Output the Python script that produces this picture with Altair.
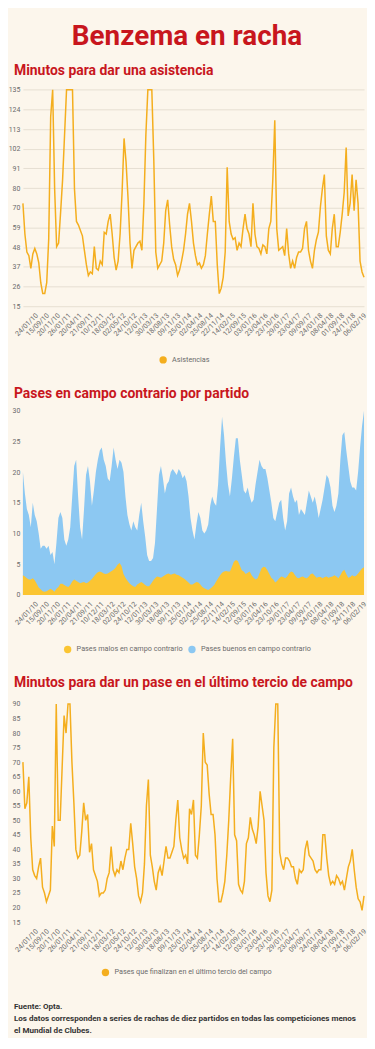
import altair as alt
import pandas as pd

# ---------------- data ----------------
fechas = ["24/01/10", "15/09/10", "20/11/10", "26/01/11", "20/04/11", "21/09/11", "10/12/11",
          "18/03/12", "02/05/12", "24/10/12", "12/01/13", "30/03/13", "18/08/13", "09/11/13",
          "25/01/14", "02/04/14", "25/08/14", "22/11/14", "14/02/15", "12/09/15", "03/01/16",
          "23/04/16", "23/10/16", "29/01/17", "23/04/17", "09/09/17", "24/01/18", "08/04/18",
          "01/09/18", "24/11/18", "06/02/19"]

# Minutos para dar una asistencia
asistencias = [72, 55, 45, 43, 36, 44, 47, 44, 39, 28, 22, 22, 28, 52, 120, 140, 80, 48, 50, 67,
               85, 110, 140, 140, 140, 140, 80, 62, 60, 57, 54, 46, 38, 32, 34, 33, 48, 36, 35, 40,
               38, 56, 55, 62, 66, 55, 42, 35, 40, 55, 78, 108, 95, 75, 50, 36, 46, 48, 50, 51,
               46, 72, 110, 140, 140, 140, 96, 45, 36, 38, 40, 50, 68, 74, 60, 48, 41, 38, 32, 35,
               40, 46, 55, 66, 72, 62, 50, 43, 38, 39, 36, 38, 43, 55, 66, 76, 62, 62, 38, 22,
               25, 31, 45, 92, 62, 55, 52, 53, 46, 50, 48, 58, 66, 58, 55, 48, 72, 55, 48, 47,
               44, 49, 48, 44, 58, 62, 85, 118, 58, 46, 47, 48, 43, 58, 44, 36, 40, 36, 42, 45,
               45, 47, 58, 62, 46, 40, 36, 46, 52, 56, 70, 80, 88, 54, 46, 44, 58, 66, 48, 48,
               56, 66, 78, 103, 65, 72, 88, 68, 85, 72, 40, 34, 31]

# Pases en campo contrario por partido (borde superior del área azul y área amarilla)
pases_total = [20, 16.5, 14, 13, 11, 15, 13, 12, 10, 7.5, 8, 8, 7.5, 8, 6.5, 7, 5, 8.5, 12.5, 13.5,
               12.5, 9, 8, 9, 11, 16, 21, 22, 16, 11, 9, 14, 19.5, 21, 18.5, 14.5, 17, 20, 22, 23.5,
               24, 22, 21, 19, 18.5, 21, 24, 22, 20.5, 22, 21.5, 20, 16, 13, 11.5, 10.5, 12, 11, 10.5, 13,
               15, 12, 9.5, 6.5, 5.5, 5.5, 6, 8.5, 14, 19.5, 21, 19, 16.5, 18, 18.5, 20, 20.5, 20, 19.5, 20.5,
               20, 19, 19.5, 18.5, 16, 12.5, 10.5,
               9, 11.5, 13.5, 12.5, 10.5, 10, 10.5, 11.5, 14.5, 16, 15, 14.5, 18, 24, 29, 26, 21.5, 18, 16, 19,
               22.5, 25.5, 25.5, 22, 19.5, 17, 16.5, 17.5, 16, 15, 15.5, 18, 20, 22, 21, 20.5, 20.5, 19, 17, 15,
               12.5, 12, 13.5, 15, 15.5, 12.5, 10.5, 12, 16.5, 17.5, 16, 15, 15.5, 13, 14, 13.5, 13, 15, 17, 16,
               15, 16, 14.5, 12.5, 14, 15.5, 17.5, 19.5, 19, 17.5, 14.5, 13.5, 14.5, 16.5, 22, 26, 26.5, 23.5, 21, 18.5,
               17.5, 17.5, 17, 20, 24, 27.5, 30]
pases_malos = [3.2, 3.0, 2.7, 2.5, 2.5, 2.7, 2.4, 1.8, 1.2, 0.9, 0.6, 0.5, 0.6, 0.8, 1.0, 0.8, 0.5, 1.0, 1.3, 1.8,
               1.8, 1.6, 1.4, 1.3, 1.6, 2.2, 2.5, 2.3, 2.1, 1.9, 2.0, 2.1, 1.9, 2.0, 2.3, 2.6, 3.0, 3.4, 3.7, 3.8,
               3.7, 3.5, 3.4, 3.5, 3.7, 3.9, 4.1, 4.4, 4.9, 5.2, 4.7, 3.4, 2.8, 2.3, 1.9, 1.6, 1.4, 1.3, 1.7, 1.9,
               2.1, 1.9, 1.6, 1.4, 1.4, 1.8, 2.3, 2.7, 3.0, 2.9, 2.8, 3.0, 3.2, 3.4, 3.5, 3.3, 3.4, 3.5, 3.3, 3.2,
               3.0, 2.8, 2.6, 2.3, 2.0, 1.7, 1.7, 1.9, 2.1, 2.0, 1.7, 1.3, 1.1, 0.9, 0.8, 1.0, 1.3, 1.6, 2.2, 2.7,
               3.2, 3.6, 3.8, 3.9, 3.8, 3.8, 4.6, 5.4, 5.7, 5.5, 4.8, 4.0, 3.8, 3.4, 3.6, 3.8, 3.2, 2.8, 2.5, 2.7,
               3.5, 4.3, 4.6, 4.5, 4.0, 3.4, 2.8, 2.5, 2.0, 2.3, 2.7, 3.0, 2.9, 2.7, 3.0, 3.5, 3.8, 3.7, 3.2, 2.8,
               2.7, 2.9, 3.0, 2.8, 2.7, 3.0, 3.4, 3.5, 3.1, 2.8, 2.9, 2.9, 2.7, 2.9, 3.0, 2.8, 2.9, 3.0, 3.2, 3.0,
               2.7, 3.2, 3.8, 4.1, 3.4, 2.8, 2.9, 3.2, 3.0, 3.1, 3.5, 3.9, 4.3, 4.5]

# Minutos para dar un pase en el último tercio de campo
ultimo_tercio = [70, 54, 56, 65, 44, 33, 31, 30, 34, 37, 27, 25, 22, 24, 26, 48, 41, 91, 50, 50,
                 68, 86, 80, 90, 91, 70, 56, 40, 37, 38, 46, 56, 50, 52, 39, 42, 33, 31, 29, 24,
                 25, 25, 26, 30, 32, 41, 33, 31, 33, 32, 36, 33, 37, 40, 40, 49, 42, 34, 30, 24,
                 22, 25, 35, 55, 64, 38, 34, 29, 26, 32, 34, 31, 36, 41, 37, 37, 39, 41, 50, 57,
                 44, 40, 37, 38, 35, 54, 52, 57, 38, 37, 45, 55, 80, 70, 69, 59, 52, 52, 45, 30,
                 22, 22, 25, 29, 38, 50, 65, 78, 45, 43, 28, 26, 25, 29, 42, 44, 51, 47, 45, 42,
                 48, 60, 55, 50, 32, 24, 22, 26, 75, 92, 90, 39, 35, 33, 37, 37, 36, 34, 34, 30,
                 28, 33, 32, 33, 40, 43, 38, 37, 36, 33, 32, 33, 33, 45, 45, 37, 31, 28, 29, 28,
                 31, 30, 28, 29, 26, 30, 34, 36, 40, 33, 27, 23, 22, 19, 24]

TITULO = "Benzema en racha"
SUB1 = "Minutos para dar una asistencia"
SUB2 = "Pases en campo contrario por partido"
SUB3 = "Minutos para dar un pase en el último tercio de campo"
S1 = "Asistencias"
S_M = "Pases malos en campo contrario"
S_B = "Pases buenos en campo contrario"
S3 = "Pases que finalizan en el último tercio del campo"
FUENTE = "Fuente: Opta."
NOTA = ["Los datos corresponden a series de rachas de diez partidos en todas las competiciones menos",
        "el Mundial de Clubes."]

# ---------------- style / layout ----------------
BG = "#fcf6ec"
RED = "#c8161d"
LINE = "#f4ae1e"
BLUE = "#8cc8f2"
YELLOW = "#fbc532"
GRID = "#e6dfd2"
LABEL = "#6b6b6b"
FONT = "Roboto"
W = 343      # plot width (page x 22 .. 365)
H = 1030     # whole drawing area (page y 8 .. 1038)

# vertical pixel bands of each panel (inside the drawing area)
P1 = (297.0, 79.3)
P2 = (587.3, 402.0)
P3 = (916.3, 697.0)


def x_axis(n, bottom):
    d0 = 11 / W * (n - 1)
    d1 = (n - 1) - 2 / W * (n - 1)
    vals = [d0 + k * (d1 - d0) / 30 for k in range(31)]
    arr = "[" + ",".join("'%s'" % f for f in fechas) + "]"
    expr = arr + "[round((datum.value-%f)*30/%f)]" % (d0, d1 - d0)
    return alt.Axis(orient="bottom", offset=bottom - H, values=vals, labelExpr=expr,
                    labelOverlap=False, labelFlush=False, labelAngle=315, labelFontSize=7,
                    labelColor=LABEL, labelFont=FONT, ticks=False, domain=False, grid=False,
                    title=None, labelPadding=5)


def x_enc(n, bottom):
    return alt.X("i:Q", scale=alt.Scale(domain=[0, n - 1], nice=False, zero=False),
                 axis=x_axis(n, bottom))


def y_axis(vals, expr=None):
    kw = dict(orient="left", values=vals, title=None, ticks=False, domain=False, labelFontSize=7,
              labelColor=LABEL, labelFont=FONT, gridColor=GRID, gridWidth=1, labelPadding=3)
    if expr:
        kw["labelExpr"] = expr
    return alt.Axis(**kw)


def legend(lx, ly, fill=None):
    kw = dict(orient="none", legendX=lx, legendY=ly, direction="horizontal", title=None, padding=0,
              symbolType="circle", symbolSize=55, symbolStrokeWidth=0, labelFontSize=7.3,
              labelColor=LABEL, labelFont=FONT, columnPadding=5, labelOffset=5, labelLimit=400)
    if fill:
        kw["symbolFillColor"] = fill
        kw["symbolOpacity"] = 1
    return alt.Legend(**kw)


def texto(txt, x, y, size, color, weight="bold", align="left", line_height=None):
    kw = dict(text=txt, fontSize=size, font=FONT, fontWeight=weight, color=color, align=align,
              baseline="alphabetic")
    if line_height:
        kw["lineHeight"] = line_height
    return alt.Chart(alt.Data(values=[{}])).mark_text(**kw).encode(x=alt.value(x), y=alt.value(y))


# panel 1
n1 = len(asistencias)
df1 = pd.DataFrame({"i": range(n1), "v": asistencias, "s": S1})
p1 = alt.Chart(df1).mark_line(strokeWidth=1.5).encode(
    x=x_enc(n1, P1[0]),
    y=alt.Y("v:Q", scale=alt.Scale(domain=[15, 135], range=list(P1), nice=False, zero=False, clamp=True),
            axis=y_axis([15 + k * 120 / 11 for k in range(12)], "round(datum.value)")),
    color=alt.Color("s:N", scale=alt.Scale(domain=[S1], range=[LINE]), legend=legend(137, 347, LINE)),
)

# panel 2
n2 = len(pases_total)
df2 = pd.DataFrame({"i": list(range(n2)) * 2, "v": pases_total + pases_malos,
                    "s": [S_B] * n2 + [S_M] * n2})
col2 = alt.Color("s:N", scale=alt.Scale(domain=[S_M, S_B], range=[YELLOW, BLUE]), legend=legend(41, 638))
y2 = alt.Y("v:Q", scale=alt.Scale(domain=[0, 30], range=list(P2), nice=False), axis=y_axis(list(range(0, 31, 5))))
x2 = x_enc(n2, P2[0])
base2 = alt.Chart(df2)
a_b = base2.transform_filter(alt.datum.s == S_B).mark_area(opacity=1).encode(x=x2, y=y2, color=col2)
a_m = base2.transform_filter(alt.datum.s == S_M).mark_area(opacity=1).encode(x=x2, y=y2, color=col2)
p2 = alt.layer(a_b, a_m)

# panel 3
n3 = len(ultimo_tercio)
df3 = pd.DataFrame({"i": range(n3), "v": ultimo_tercio, "s": S3})
p3 = alt.Chart(df3).mark_line(strokeWidth=1.5).encode(
    x=x_enc(n3, P3[0]),
    y=alt.Y("v:Q", scale=alt.Scale(domain=[15, 90], range=list(P3), nice=False, zero=False, clamp=True),
            axis=y_axis(list(range(15, 91, 5)))),
    color=alt.Color("s:N", scale=alt.Scale(domain=[S3], range=[LINE]), legend=legend(79, 963, LINE)),
)

# texts
t0 = texto(TITULO, 165, 34.3, 28, RED, align="center")
t1 = texto(SUB1, -9, 65, 14, RED)
t2 = texto(SUB2, -9, 389, 14, RED)
t3 = texto(SUB3, -9, 680, 14, RED)
t4 = texto(FUENTE, -9, 1004, 8.1, "#333333")
t5 = texto(NOTA, -9, 1016, 8.1, "#333333", line_height=11.7)

chart = alt.layer(p1, p2, p3, t0, t1, t2, t3, t4, t5).resolve_scale(
    x="independent", y="independent", color="independent").resolve_axis(
    x="independent", y="independent").resolve_legend(color="independent").properties(
    width=W, height=H, background=BG,
    padding={"left": 0, "right": 0, "top": 0, "bottom": 0},
).configure_view(stroke=None)

chart.save("out.html", embed_options={"renderer": "svg", "actions": False})
